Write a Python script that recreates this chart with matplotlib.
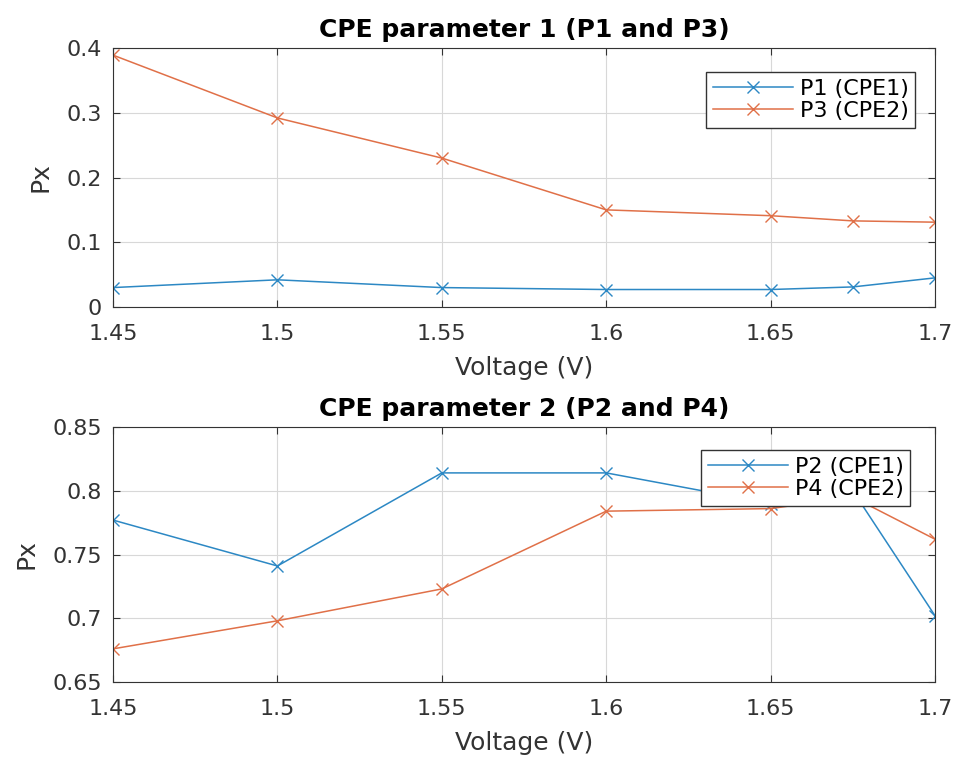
import numpy as np
import matplotlib.pyplot as plt

voltage = [1.45, 1.5, 1.55, 1.6, 1.65, 1.675, 1.7]
p1 = [0.030, 0.042, 0.030, 0.027, 0.027, 0.031, 0.045]
p3 = [0.389, 0.292, 0.230, 0.150, 0.141, 0.133, 0.131]
p2 = [0.777, 0.741, 0.814, 0.814, 0.790, 0.800, 0.702]
p4 = [0.676, 0.698, 0.723, 0.784, 0.786, 0.795, 0.762]

xticks = [1.45, 1.5, 1.55, 1.6, 1.65, 1.7]
xticklabels = ["1.45", "1.5", "1.55", "1.6", "1.65", "1.7"]

blue = "#2c88c4"
orange = "#e07048"
plt.rcParams["font.family"] = "DejaVu Sans"

fig = plt.figure(figsize=(9.6, 7.63), dpi=100)
ax1 = fig.add_axes([113 / 960, 1 - 307 / 763, 822 / 960, 259 / 763])
ax2 = fig.add_axes([113 / 960, 1 - 682 / 763, 822 / 960, 255 / 763])


def style(ax, title, yticks, yticklabels, ylim):
    ax.set_xlim(1.45, 1.7)
    ax.set_ylim(*ylim)
    ax.set_xticks(xticks)
    ax.set_xticklabels(xticklabels)
    ax.set_yticks(yticks)
    ax.set_yticklabels(yticklabels)
    ax.grid(True, color="#d8d8d8", linewidth=0.8)
    ax.tick_params(labelsize=16, colors="#333333", direction="in", length=5,
                   top=True, right=True)
    ax.tick_params(axis="x", pad=12)
    ax.tick_params(axis="y", pad=8)
    for s in ax.spines.values():
        s.set_color("#333333")
    ax.set_title(title, fontsize=18, fontweight="bold", pad=8)
    ax.set_xlabel("Voltage (V)", fontsize=18, color="#333333", labelpad=9)
    ax.set_ylabel("Px", fontsize=18, color="#333333", labelpad=10)


def legend(ax, anchor):
    ax.legend(loc="upper right", bbox_to_anchor=anchor, fontsize=16, fancybox=False,
              framealpha=1, edgecolor="#333333", borderpad=0.3, handlelength=3.6,
              handletextpad=0.3, labelspacing=0.1, borderaxespad=0)


ax1.plot(voltage, p1, color=blue, marker="x", markersize=9, linewidth=1.1, label="P1 (CPE1)")
ax1.plot(voltage, p3, color=orange, marker="x", markersize=9, linewidth=1.1, label="P3 (CPE2)")
style(ax1, "CPE parameter 1 (P1 and P3)", [0, 0.1, 0.2, 0.3, 0.4],
      ["0", "0.1", "0.2", "0.3", "0.4"], (0, 0.4))
legend(ax1, (0.976, 0.907))

ax2.plot(voltage, p2, color=blue, marker="x", markersize=9, linewidth=1.1, label="P2 (CPE1)")
ax2.plot(voltage, p4, color=orange, marker="x", markersize=9, linewidth=1.1, label="P4 (CPE2)")
style(ax2, "CPE parameter 2 (P2 and P4)", [0.65, 0.7, 0.75, 0.8, 0.85],
      ["0.65", "0.7", "0.75", "0.8", "0.85"], (0.65, 0.85))
legend(ax2, (0.970, 0.91))

fig.savefig("out.png", dpi=100)
